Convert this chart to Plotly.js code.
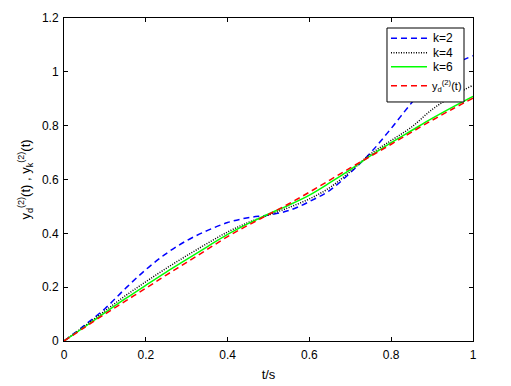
<!DOCTYPE html>
<html>
<head>
<meta charset="utf-8">
<script src="https://cdn.plot.ly/plotly-3.0.1.min.js"></script>
<style>
  html, body { margin: 0; padding: 0; background: #fff; }
  #chart { width: 511px; height: 386px; }
</style>
</head>
<body>
<div id="chart"></div>
<script>
var t = [0, 0.05, 0.1, 0.15, 0.2, 0.25, 0.3, 0.35, 0.4, 0.45, 0.5,
         0.55, 0.6, 0.65, 0.7, 0.75, 0.8, 0.85, 0.9, 0.95, 1];

var yK2 = [0, 0.058, 0.12, 0.195, 0.265, 0.325, 0.373, 0.41, 0.44, 0.458, 0.468,
           0.485, 0.518, 0.56, 0.625, 0.70, 0.79, 0.885, 0.97, 1.025, 1.06];

var yK4 = [0, 0.055, 0.112, 0.168, 0.22, 0.27, 0.317, 0.362, 0.405, 0.44, 0.468,
           0.496, 0.528, 0.57, 0.63, 0.695, 0.745, 0.795, 0.86, 0.91, 0.95];

var yK6 = [0, 0.052, 0.105, 0.157, 0.207, 0.256, 0.303, 0.35, 0.396, 0.436, 0.472,
           0.505, 0.542, 0.588, 0.637, 0.689, 0.737, 0.782, 0.827, 0.869, 0.909];

var yD = [0, 0.05, 0.10, 0.148, 0.196, 0.245, 0.292, 0.34, 0.388, 0.43, 0.47,
          0.51, 0.553, 0.598, 0.643, 0.687, 0.731, 0.776, 0.82, 0.862, 0.902];

var names = ['k=2', 'k=4', 'k=6', 'y<sub>d</sub><sup>(2)</sup>(t)'];
var colors = ['#0000ff', '#000000', '#00ff00', '#ff0000'];
var dashes = ['6px,4px', '1px,1.5px', 'solid', '6px,4px'];

var xTicks = [0, 0.2, 0.4, 0.6, 0.8, 1];
var xTickText = ['0', '0.2', '0.4', '0.6', '0.8', '1'];
var yTicks = [0, 0.2, 0.4, 0.6, 0.8, 1, 1.2];
var yTickText = ['0', '0.2', '0.4', '0.6', '0.8', '1', '1.2'];

var fontFam = 'Liberation Sans, Arial, sans-serif';
var series = [yK2, yK4, yK6, yD];

var traces = series.map(function (ys, i) {
    return {
        name: names[i],
        type: 'scatter',
        mode: 'lines',
        x: t,
        y: ys,
        showlegend: false,
        line: { color: colors[i], width: 1.5, dash: dashes[i], shape: 'spline' }
    };
});

// legend box drawn by hand, MATLAB style (paper coords)
var legX0 = 0.7897, legX1 = 0.978, legY0 = 0.740, legY1 = 0.969;
var rowY = [0.937, 0.8926, 0.8492, 0.7904];
var shapes = [{
    type: 'rect', xref: 'paper', yref: 'paper',
    x0: legX0, x1: legX1, y0: legY0, y1: legY1,
    fillcolor: '#fff', line: { color: '#000', width: 1 }, layer: 'above'
}];
var annotations = [];
rowY.forEach(function (yy, i) {
    shapes.push({
        type: 'line', xref: 'paper', yref: 'paper',
        x0: 0.7995, x1: 0.8875, y0: yy, y1: yy,
        line: { color: colors[i], width: 1.5, dash: dashes[i] }, layer: 'above'
    });
    annotations.push({
        xref: 'paper', yref: 'paper', x: i === 3 ? 0.894 : 0.897, y: yy,
        xanchor: 'left', yanchor: 'middle', showarrow: false,
        text: names[i], font: { family: fontFam, size: i === 3 ? 11 : 12, color: '#000' }
    });
});

var axisCommon = {
    showline: true,
    linecolor: '#000',
    linewidth: 1,
    mirror: 'ticks',
    ticks: 'inside',
    ticklen: 4,
    tickcolor: '#000',
    showgrid: false,
    zeroline: false,
    tickfont: { family: fontFam, size: 12, color: '#000' }
};

var layout = {
    width: 511,
    height: 386,
    paper_bgcolor: '#fff',
    plot_bgcolor: '#fff',
    margin: { l: 64, r: 38, t: 18, b: 45 },
    font: { family: fontFam, size: 12, color: '#000' },
    showlegend: false,
    xaxis: Object.assign({}, axisCommon, {
        range: [0, 1],
        tickvals: xTicks,
        ticktext: xTickText,
        ticklabelstandoff: 3,
        title: { text: 't/s', font: { family: fontFam, size: 13 }, standoff: 8 }
    }),
    yaxis: Object.assign({}, axisCommon, {
        range: [0, 1.2],
        tickvals: yTicks,
        ticktext: yTickText,
        ticklabelstandoff: 2,
        title: {
            text: 'y<sub>d</sub><sup>(2)</sup>(t) , y<sub>k</sub><sup>(2)</sup>(t)',
            font: { family: fontFam, size: 13 },
            standoff: 8
        }
    }),
    shapes: shapes,
    annotations: annotations
};

Plotly.newPlot('chart', traces, layout, { staticPlot: true, displayModeBar: false });
</script>
</body>
</html>
